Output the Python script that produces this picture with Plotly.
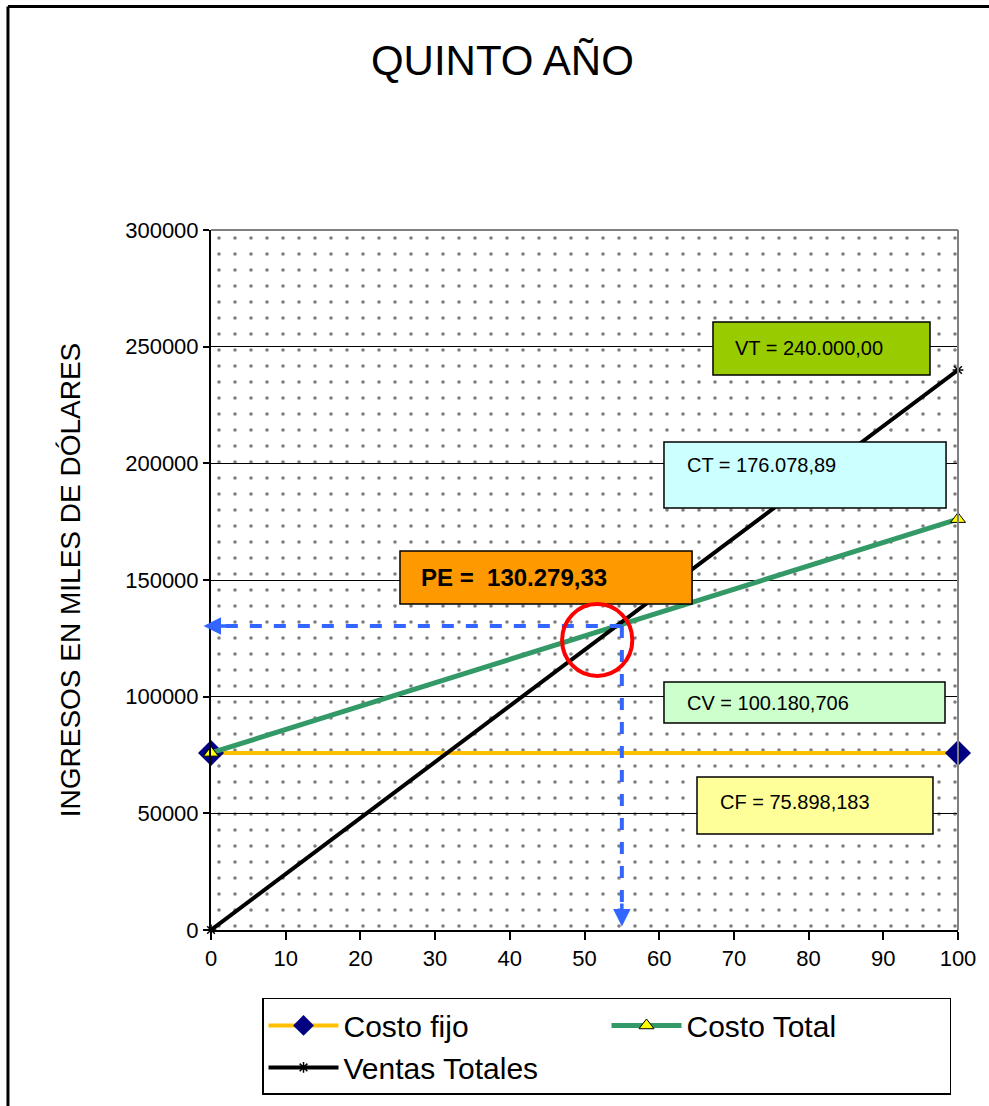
import plotly.graph_objects as go

# ---- data ----
x_units = [0, 100]
costo_fijo = [75898.183, 75898.183]
costo_total = [75898.183, 176078.89]
ventas_totales = [0, 240000]
pe_x = 55
pe_y = 130279.33
y_ticks = [0, 50000, 100000, 150000, 200000, 250000, 300000]
x_ticks = [0, 10, 20, 30, 40, 50, 60, 70, 80, 90, 100]

box_labels = ["VT = 240.000,00", "CT = 176.078,89", "PE =  130.279,33",
              "CV = 100.180,706", "CF = 75.898,183"]
box_colors = ["#99CC00", "#CCFFFF", "#FF9900", "#CCFFCC", "#FFFF99"]
# box extents (data units): x0, x1, y0, y1, text x, text y
box_geom = [
    (67.2, 96.25, 237857, 260571, 69.9, 249400),
    (60.64, 98.4, 180857, 209143, 63.45, 199300),
    (25.3, 64.4, 139714, 162429, 27.9, 150900),
    (60.64, 98.26, 88714, 106286, 63.45, 97300),
    (65.06, 96.65, 41143, 65571, 67.87, 54900),
]

FONT = "Liberation Sans, Arial, sans-serif"

fig = go.Figure()

# dotted plot background
fig.add_trace(go.Scatter(
    x=[0, 100, 100, 0, 0], y=[0, 0, 300000, 300000, 0],
    mode="none", fill="toself", fillcolor="rgba(0,0,0,0)",
    fillpattern=dict(shape=".", fgcolor="black", bgcolor="rgba(0,0,0,0)",
                     size=16, solidity=0.04, fillmode="overlay"),
    showlegend=False, hoverinfo="skip"))

fig.add_trace(go.Scatter(
    x=x_units, y=costo_fijo, name="Costo fijo", mode="lines+markers",
    line=dict(color="#FFC000", width=4),
    marker=dict(symbol="diamond", size=20, color="#000080"),
    cliponaxis=False))
fig.add_trace(go.Scatter(
    x=x_units, y=costo_total, name="Costo Total", mode="lines+markers",
    line=dict(color="#339966", width=5),
    marker=dict(symbol="triangle-up", size=13, color="#FFFF00",
                line=dict(color="black", width=1)),
    cliponaxis=False))
fig.add_trace(go.Scatter(
    x=x_units, y=ventas_totales, name="Ventas Totales", mode="lines+markers",
    line=dict(color="black", width=4),
    marker=dict(symbol="asterisk-open", size=9, color="black",
                line=dict(color="black", width=1.5)),
    cliponaxis=False))

shapes = []
annotations = []
for (x0, x1, y0, y1, tx, ty), lab, col in zip(box_geom, box_labels, box_colors):
    shapes.append(dict(type="rect", xref="x", yref="y", x0=x0, x1=x1, y0=y0, y1=y1,
                       fillcolor=col, line=dict(color="black", width=1.5), layer="above"))
    bold = lab.startswith("PE")
    annotations.append(dict(
        x=tx, y=ty, xref="x", yref="y", xanchor="left", yanchor="middle",
        text=("<b>%s</b>" % lab) if bold else lab, showarrow=False,
        font=dict(family=FONT, size=24 if bold else 20, color="black")))

# break-even dashed guides
shapes.append(dict(type="line", xref="x", yref="y", x0=pe_x, x1=0.3, y0=pe_y, y1=pe_y,
                   line=dict(color="#3366FF", width=4, dash="dash"), layer="above"))
shapes.append(dict(type="line", xref="x", yref="y", x0=pe_x, x1=pe_x, y0=pe_y, y1=6000,
                   line=dict(color="#3366FF", width=4, dash="dash"), layer="above"))
annotations.append(dict(x=-1.0, y=pe_y, ax=2.5, ay=pe_y, xref="x", yref="y",
                        axref="x", ayref="y", text="", showarrow=True, arrowhead=2,
                        arrowsize=1, arrowwidth=3.5, arrowcolor="#3366FF"))
annotations.append(dict(x=pe_x, y=1500, ax=pe_x, ay=12000, xref="x", yref="y",
                        axref="x", ayref="y", text="", showarrow=True, arrowhead=2,
                        arrowsize=1, arrowwidth=3.5, arrowcolor="#3366FF"))
# red circle around break-even point
shapes.append(dict(type="circle", xref="x", yref="y", x0=47.0, x1=56.4,
                   y0=108900, y1=139700, line=dict(color="#FF0000", width=4),
                   layer="above"))

# plot border (gray top/right)
shapes.append(dict(type="line", xref="paper", yref="paper", x0=0, x1=1, y0=1, y1=1,
                   line=dict(color="#808080", width=2)))
shapes.append(dict(type="line", xref="paper", yref="paper", x0=1, x1=1, y0=0, y1=1,
                   line=dict(color="#808080", width=2)))
# outer chart frame (top and left)
shapes.append(dict(type="line", xref="paper", yref="paper", x0=-0.2718, x1=1.05,
                   y0=1.3193, y1=1.3193, line=dict(color="black", width=3)))
shapes.append(dict(type="line", xref="paper", yref="paper", x0=-0.2718, x1=-0.2718,
                   y0=1.3193, y1=-0.26, line=dict(color="black", width=3)))

fig.update_layout(
    width=989, height=1106,
    margin=dict(l=211, r=31, t=230, b=176, autoexpand=False),
    paper_bgcolor="white", plot_bgcolor="white",
    font=dict(family=FONT, color="black"),
    title=dict(text="QUINTO AÑO", x=0.508, xref="container", xanchor="center",
               y=1 - 60 / 1106, yref="container", yanchor="middle",
               font=dict(family=FONT, size=42, color="black")),
    xaxis=dict(range=[0, 100], tickvals=x_ticks, showgrid=False, zeroline=False,
               showline=True, linecolor="black", linewidth=2,
               ticks="outside", ticklen=8, tickwidth=1.5, tickcolor="black",
               tickfont=dict(size=22, family=FONT), automargin=False),
    yaxis=dict(range=[0, 300000], tickvals=y_ticks, tickformat="d", showgrid=True,
               gridcolor="black", gridwidth=1, zeroline=False,
               showline=True, linecolor="black", linewidth=2,
               ticks="outside", ticklen=6, tickwidth=1.5, tickcolor="black",
               tickfont=dict(size=22, family=FONT), automargin=False,
               title=dict(text="INGRESOS EN MILES DE DÓLARES", standoff=36,
                          font=dict(size=28, family=FONT))),
    legend=dict(orientation="h", x=0.0683, y=-0.0971, xanchor="left", yanchor="top",
                entrywidth=258, entrywidthmode="pixels", itemwidth=70,
                bordercolor="black", borderwidth=1.5, bgcolor="white",
                font=dict(size=30, family=FONT)),
    shapes=shapes, annotations=annotations,
)

fig.write_html("out.html", config={"displayModeBar": False},
               post_script="document.body.style.margin='0';")
